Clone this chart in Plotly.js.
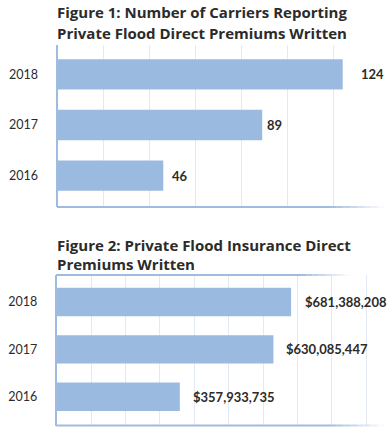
<!DOCTYPE html>
<html><head><meta charset="utf-8">
<script src="https://cdn.plot.ly/plotly-3.0.1.min.js"></script>
<style>html,body{margin:0;padding:0;background:#fff}#c{width:388px;height:429px}</style>
</head><body><div id="c"></div>
<script>
const years = ["2016", "2017", "2018"];
const carriers = [46, 89, 124];
const premiums = [357933735, 630085447, 681388208];
const title1 = ["Figure 1: Number of Carriers Reporting", "Private Flood Direct Premiums Written"];
const title2 = ["Figure 2: Private Flood Insurance Direct", "Premiums Written"];

const W = 388, H = 429;
const px = v => v / W, py = v => 1 - v / H;
const barColor = "#9bbae0", lineColor = "#a0bbe0", gridColor = "#e2e9f3", textColor = "#2b2b2b";
const FONT = "Lato, 'DejaVu Sans', sans-serif";
const TFONT = "'Open Sans', Lato, sans-serif";
const shift1 = [7, 3, 16], shift2 = [11, 11, 12];

const traces = [
  {type: "bar", orientation: "h", y: years, x: carriers, xaxis: "x", yaxis: "y",
   marker: {color: barColor}, width: 0.6, hoverinfo: "skip"},
  {type: "bar", orientation: "h", y: years, x: premiums, xaxis: "x2", yaxis: "y2",
   marker: {color: barColor}, width: 0.6, hoverinfo: "skip"}
];

const annotations = [];
const vfont = {family: FONT, size: 13, color: textColor, weight: "bold"};
years.forEach((yr, i) => {
  annotations.push({xref: "x", yref: "y", x: carriers[i], y: i, text: String(carriers[i]),
    xanchor: "left", yanchor: "middle", xshift: shift1[i], showarrow: false, font: vfont});
  annotations.push({xref: "x2", yref: "y2", x: premiums[i], y: i,
    text: "$" + premiums[i].toLocaleString("en-US"),
    xanchor: "left", yanchor: "middle", xshift: shift2[i], showarrow: false, font: vfont});
});
const tfont = {family: TFONT, size: 15, color: textColor, weight: "bold"};
[[title1[0], 12], [title1[1], 33]].forEach(([t, y]) => annotations.push({xref: "paper", yref: "paper",
  x: px(55), y: py(y), xanchor: "left", yanchor: "middle", text: t, showarrow: false, font: tfont}));
[[title2[0], 245], [title2[1], 264]].forEach(([t, y]) => annotations.push({xref: "paper", yref: "paper",
  x: px(55), y: py(y), xanchor: "left", yanchor: "middle", text: t, showarrow: false, font: tfont}));

// fading horizontal frame lines
const shapes = [];
function fadeLine(x0, xs, x1, y, w) {
  shapes.push({type: "line", xref: "paper", yref: "paper", x0: px(x0), x1: px(xs), y0: py(y), y1: py(y),
    line: {color: lineColor, width: w}});
  const n = 8, step = (x1 - xs) / n;
  for (let k = 0; k < n; k++) {
    shapes.push({type: "line", xref: "paper", yref: "paper", x0: px(xs + k * step), x1: px(xs + (k + 1) * step),
      y0: py(y), y1: py(y), opacity: 1 - (k + 0.5) / n, line: {color: lineColor, width: w}});
  }
}
fadeLine(57, 330, 384, 207, 2);
fadeLine(56, 300, 350, 275, 2);
fadeLine(56, 330, 384, 425.5, 2);

const tickFont = {family: FONT, size: 12.5, color: textColor};
const layout = {
  width: W, height: H, margin: {l: 0, r: 0, t: 0, b: 0},
  paper_bgcolor: "#fff", plot_bgcolor: "#fff", showlegend: false, bargap: 0.4,
  font: {family: FONT},
  xaxis: {domain: [px(57.5), px(379.5)], range: [0, 140], dtick: 20, showticklabels: false,
    showgrid: true, gridcolor: gridColor, gridwidth: 1, zeroline: false, showline: false, ticks: "", anchor: "y"},
  yaxis: {domain: [py(207), py(45)], type: "category", range: [-0.62, 2.58], anchor: "x",
    showline: true, linecolor: lineColor, linewidth: 2, showgrid: false, ticks: "",
    tickfont: tickFont, ticklabelstandoff: 15},
  xaxis2: {domain: [px(56.7), px(383.5)], range: [0, 950e6], dtick: 100e6, showticklabels: false,
    showgrid: true, gridcolor: gridColor, gridwidth: 1, zeroline: false, showline: false, ticks: "", anchor: "y2"},
  yaxis2: {domain: [py(425.7), py(275)], type: "category", range: [-0.61, 2.57], anchor: "x2",
    showline: true, linecolor: lineColor, linewidth: 2, showgrid: false, ticks: "",
    tickfont: tickFont, ticklabelstandoff: 15},
  annotations: annotations, shapes: shapes
};
Plotly.newPlot("c", traces, layout, {staticPlot: true, displayModeBar: false});
</script></body></html>
